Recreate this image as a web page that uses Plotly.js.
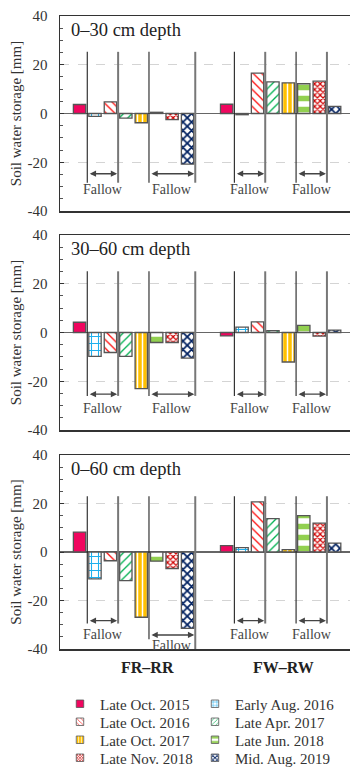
<!DOCTYPE html>
<html>
<head>
<meta charset="utf-8">
<script src="https://cdn.plot.ly/plotly-3.0.1.min.js"></script>
<style>
html,body{margin:0;padding:0;background:#fff;overflow:hidden;}
#chart{width:350px;height:776px;}
</style>
</head>
<body>
<div id="chart"></div>
<script>
// ---- data ----
const groups = ['FR–RR', 'FW–RW'];
const seriesNames = ['Late Oct. 2015', 'Early Aug. 2016', 'Late Oct. 2016', 'Late Apr. 2017',
                     'Late Oct. 2017', 'Late Jun. 2018', 'Late Nov. 2018', 'Mid. Aug. 2019'];
const panelTitles = ['0–30 cm depth', '30–60 cm depth', '0–60 cm depth'];
// values per series: [FR–RR, FW–RW]
const depth0_30 = [
  [3.7, 3.8], [-1.2, -0.5], [4.8, 16.6], [-1.9, 13.0],
  [-3.8, 12.6], [0.5, 12.2], [-2.5, 13.3], [-20.8, 2.9]
];
const depth30_60 = [
  [4.2, -1.4], [-9.8, 2.2], [-8.2, 4.4], [-9.8, 0.8],
  [-23.0, -12.1], [-4.1, 2.9], [-4.1, -1.5], [-10.5, 1.0]
];
const depth0_60 = [
  [8.2, 2.6], [-11.1, 1.8], [-3.6, 20.7], [-11.8, 13.8],
  [-26.9, 1.0], [-3.8, 15.0], [-6.8, 11.9], [-31.5, 3.7]
];
const yTicks = [-40, -20, 0, 20, 40];
// fallow periods: slot boundaries within each group
const fallowSpans = [[[1, 3], [5, 8]], [[1, 3], [5, 7]]];
const fallowLabel = 'Fallow';

// ---- styles ----
const SERIF = "'Liberation Serif', 'Times New Roman', serif";
const styles = [
  {color: '#F0065F', pattern: {shape: ''}},
  {color: '#ffffff', pattern: {shape: '+', fgcolor: '#1FB0EE', bgcolor: '#ffffff', fgopacity: 1, size: 7, solidity: 0.28, fillmode: 'overlay'}},
  {color: '#ffffff', pattern: {shape: '\\', fgcolor: '#FF1010', bgcolor: '#ffffff', fgopacity: 1, size: 6, solidity: 0.22, fillmode: 'overlay'}},
  {color: '#ffffff', pattern: {shape: '/', fgcolor: '#00B050', bgcolor: '#ffffff', fgopacity: 1, size: 6, solidity: 0.22, fillmode: 'overlay'}},
  {color: '#FFC000', pattern: {shape: '|', fgcolor: '#ffffff', bgcolor: '#FFC000', fgopacity: 1, size: 5, solidity: 0.3, fillmode: 'overlay'}},
  {color: '#ffffff', pattern: {shape: '-', fgcolor: '#92D050', bgcolor: '#ffffff', fgopacity: 1, size: 11, solidity: 0.5, fillmode: 'overlay'}},
  {color: '#ffffff', pattern: {shape: 'x', fgcolor: '#D00000', bgcolor: '#ffffff', fgopacity: 1, size: 4, solidity: 0.5, fillmode: 'overlay'}},
  {color: '#ffffff', pattern: {shape: 'x', fgcolor: '#002060', bgcolor: '#ffffff', fgopacity: 1, size: 6, solidity: 0.5, fillmode: 'overlay'}}
];

const BARGAP = 0.161;
const panels = [depth0_30, depth30_60, depth0_60];
const W = 350, H = 776;
const ML = 60;
const PX_PER_CAT = 147.1;
const panelPx = [[16, 211], [235, 430], [455, 649]];
const legendRowsPx = [704, 722, 740, 758];
const legendColsPx = [60, 195];

function legendId(s) { return s === 0 ? 'legend' : 'legend' + (s + 1); }

const traces = [];
panels.forEach((vals, p) => {
  const sfx = p === 0 ? '' : String(p + 1);
  seriesNames.forEach((name, s) => {
    traces.push({
      type: 'bar',
      name: name,
      x: groups,
      y: vals[s],
      xaxis: 'x' + sfx,
      yaxis: 'y' + sfx,
      legend: legendId(s),
      legendgroup: name,
      showlegend: p === 0,
      marker: {color: styles[s].color, pattern: styles[s].pattern,
               line: {color: '#555', width: 1.3}},
      hoverinfo: 'skip'
    });
  });
});

const layout = {
  width: W, height: H,
  margin: {l: ML, r: 0, t: 0, b: 0},
  paper_bgcolor: '#fff', plot_bgcolor: '#fff',
  barmode: 'group', bargap: BARGAP, bargroupgap: 0.2,
  font: {family: SERIF, size: 15, color: '#333'},
  showlegend: true,
  shapes: [], annotations: []
};
seriesNames.forEach((name, s) => {
  const row = Math.floor(s / 2), col = s % 2;
  layout[legendId(s)] = {
    orientation: 'v', x: (legendColsPx[col] - ML) / (W - ML), xanchor: 'left',
    y: 1 - legendRowsPx[row] / H, yanchor: 'middle',
    font: {family: SERIF, size: 15, color: '#333'},
    bgcolor: 'rgba(0,0,0,0)', borderwidth: 0
  };
});

function slotEdge(g, b) {
  const gw = 1 - BARGAP;
  return g - gw / 2 + gw / 8 * b;
}
const fallowGeom = [
  {top: 25.3, bot: -28.4, arrow: -24.7, text: -31},
  {top: 25.1, bot: -26.0, arrow: -25.3, text: -31.3},
  {top: 23.0, bot: -29.5, arrow: -28.3, text: -34.2}
];

const xMax = -0.5 + (W - ML) / PX_PER_CAT;
panels.forEach((vals, p) => {
  const sfx = p === 0 ? '' : String(p + 1);
  const [tp, bt] = panelPx[p];
  layout['xaxis' + sfx] = {
    domain: [0, 1], anchor: 'y' + sfx, range: [-0.5, xMax], type: 'category',
    showticklabels: false, ticks: '', showgrid: false,
    showline: true, mirror: true, linecolor: '#333', linewidth: 1.5,
    categoryorder: 'array', categoryarray: groups
  };
  layout['yaxis' + sfx] = {
    domain: [1 - bt / H, 1 - tp / H], anchor: 'x' + sfx, range: [-40, 40],
    tickvals: yTicks, ticktext: yTicks.map(String),
    ticks: 'inside', ticklen: 4, tickcolor: '#333', tickwidth: 1,
    ticklabelstandoff: 8,
    minor: {dtick: 5, tick0: 0, ticks: 'inside', ticklen: 3, tickcolor: '#555', showgrid: false},
    showgrid: true, gridcolor: '#d4d4d4', griddash: 'dash', gridwidth: 1,
    zeroline: true, zerolinecolor: '#666', zerolinewidth: 1.5,
    showline: true, linecolor: '#333', linewidth: 1.5,
    tickfont: {family: SERIF, size: 15, color: '#333'},
    title: {text: 'Soil water storage [mm]', font: {family: SERIF, size: 15, color: '#333'}, standoff: 2},
    automargin: false
  };
  layout.annotations.push({
    xref: 'x' + sfx + ' domain', yref: 'y' + sfx + ' domain', x: 0.03, y: 0.928,
    xanchor: 'left', yanchor: 'middle', showarrow: false, text: panelTitles[p],
    font: {family: SERIF, size: 18.5, color: '#222'}
  });
  const geo = fallowGeom[p];
  fallowSpans.forEach((spans, g) => {
    spans.forEach((span, k) => {
      const x0 = slotEdge(g, span[0]);
      const x1 = slotEdge(g, span[1]);
      let bot = geo.bot, arrowY = geo.arrow, textY = geo.text;
      let bot1 = geo.bot;
      if (p === 2 && g === 0 && k === 1) { bot = -36; bot1 = -40; arrowY = -34.2; textY = -38.6; }
      layout.shapes.push({type: 'line', xref: 'x' + sfx, yref: 'y' + sfx,
        x0: x0, x1: x0, y0: geo.top, y1: bot, line: {color: '#222', width: 1.1}});
      layout.shapes.push({type: 'line', xref: 'x' + sfx, yref: 'y' + sfx,
        x0: x1, x1: x1, y0: geo.top, y1: bot1, line: {color: '#777', width: 2}});
      layout.annotations.push({
        xref: 'x' + sfx, yref: 'y' + sfx, axref: 'x' + sfx, ayref: 'y' + sfx,
        x: x1, y: arrowY, ax: x0, ay: arrowY, text: '', showarrow: true,
        arrowhead: 2, arrowside: 'end+start', arrowsize: 0.9, arrowwidth: 1.4, arrowcolor: '#444',
        standoff: 1, startstandoff: 1
      });
      layout.annotations.push({
        xref: 'x' + sfx, yref: 'y' + sfx, x: (x0 + x1) / 2, y: textY,
        xanchor: 'center', yanchor: 'middle', showarrow: false, text: fallowLabel,
        font: {family: SERIF, size: 14, color: '#444'}
      });
    });
  });
});

groups.forEach((g, i) => {
  layout.annotations.push({
    xref: 'x3', yref: 'paper', x: i, y: 1 - 667 / H, xshift: i === 0 ? 14 : 3,
    xanchor: 'center', yanchor: 'middle', showarrow: false, text: g,
    font: {family: SERIF, size: 16, color: '#222', weight: 'bold'}
  });
});

Plotly.newPlot('chart', traces, layout, {displayModeBar: false, staticPlot: true}).then(() => {
  // shrink legend swatches to the small squares of the original figure
  document.querySelectorAll('#chart .legendpoints path').forEach(el => {
    const t = el.getAttribute('transform') || '';
    el.setAttribute('transform', t + ' scale(0.62)');
  });
});
</script>
</body>
</html>
